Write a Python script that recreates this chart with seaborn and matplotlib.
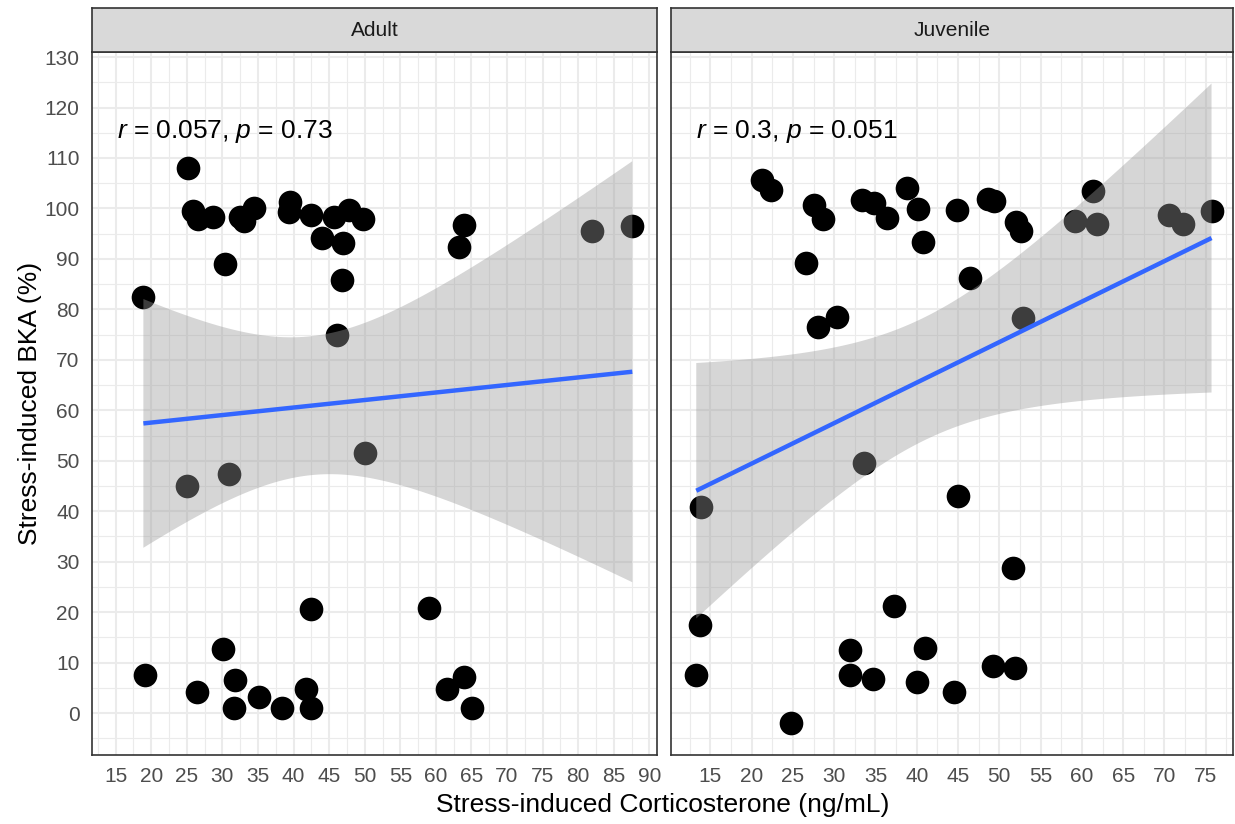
import matplotlib
matplotlib.use("Agg")
import matplotlib.pyplot as plt
import numpy as np
import seaborn as sns
from matplotlib.ticker import MultipleLocator

# Stress-induced corticosterone (ng/mL) and bacterial killing ability (%)
adult_cort = [25.1, 25.9, 26.6, 28.7, 32.5, 33.0, 34.4, 30.4, 18.9, 39.5,
              39.3, 42.5, 44.0, 45.7, 47.8, 49.8, 47.0, 46.8, 46.1, 63.9,
              63.3, 81.9, 87.6, 25.0, 30.9, 50.0, 19.1, 26.4, 30.1, 31.8,
              31.6, 35.1, 38.4, 42.4, 41.8, 42.4, 59.0, 63.9, 61.6, 65.1]
adult_bka = [108.1, 99.4, 98.0, 98.4, 98.3, 97.5, 100.0, 89.0, 82.5, 101.3,
             99.3, 98.7, 94.1, 98.4, 99.7, 98.0, 93.1, 85.8, 74.9, 96.7,
             92.4, 95.6, 96.5, 45.0, 47.3, 51.5, 7.5, 4.2, 12.7, 6.5,
             1.1, 3.2, 1.1, 20.7, 4.7, 1.1, 20.9, 7.2, 4.7, 1.1]

juv_cort = [21.3, 22.4, 27.6, 28.7, 26.6, 33.4, 34.8, 36.4, 38.8, 40.1,
            40.7, 44.9, 46.5, 28.0, 30.3, 48.6, 49.4, 52.0, 52.6, 52.9,
            61.4, 59.2, 61.8, 70.6, 72.2, 75.7, 13.9, 33.6, 45.0, 51.7,
            13.7, 13.3, 37.3, 31.9, 31.9, 34.7, 41.0, 40.0, 44.5, 49.2,
            51.9, 24.8]
juv_bka = [105.6, 103.6, 100.6, 98.0, 89.2, 101.7, 101.0, 98.2, 104.0, 99.9,
           93.4, 99.7, 86.3, 76.6, 78.5, 101.8, 101.5, 97.4, 95.6, 78.2,
           103.5, 97.6, 96.9, 98.7, 97.0, 99.5, 40.9, 49.5, 43.0, 28.7,
           17.4, 7.5, 21.3, 12.6, 7.5, 6.7, 13.0, 6.2, 4.2, 9.3,
           9.0, -1.9]

panel_names = ["Adult", "Juvenile"]
cor_r = ["0.057", "0.3"]
cor_p = ["0.73", "0.051"]
label_x = [15.2, 13.3]
x_limits = [(11.68, 91.07), (10.24, 78.3)]
x_ticks = [list(range(15, 91, 5)), list(range(15, 76, 5))]
y_ticks = list(range(0, 131, 10))
y_limits = (-8.3, 131.0)

sns.set_style("white")
plt.rcParams["font.family"] = ["Liberation Sans", "DejaVu Sans"]
plt.rcParams["mathtext.fontset"] = "custom"
plt.rcParams["mathtext.it"] = "Liberation Sans:italic"
plt.rcParams["mathtext.rm"] = "Liberation Sans"


def t_quantile_975(df):
    """Student t 97.5% quantile via Cornish-Fisher expansion."""
    z = 1.959963985
    return (z + (z**3 + z) / (4 * df)
            + (5 * z**5 + 16 * z**3 + 3 * z) / (96 * df**2)
            + (3 * z**7 + 19 * z**5 + 17 * z**3 - 15 * z) / (384 * df**3))


def linear_fit_band(xs, ys, n_grid=120):
    """Least-squares line with a 95% confidence band for the mean."""
    x = np.asarray(xs, float)
    y = np.asarray(ys, float)
    n = len(x)
    xbar = x.mean()
    sxx = ((x - xbar) ** 2).sum()
    b = ((x - xbar) * (y - y.mean())).sum() / sxx
    a = y.mean() - b * xbar
    resid = y - (a + b * x)
    s = np.sqrt((resid ** 2).sum() / (n - 2))
    grid = np.linspace(x.min(), x.max(), n_grid)
    fit = a + b * grid
    se = s * np.sqrt(1 / n + (grid - xbar) ** 2 / sxx)
    t = t_quantile_975(n - 2)
    return grid, fit - t * se, fit + t * se


W, H = 1235, 824
fig = plt.figure(figsize=(W / 100, H / 100), dpi=100)
fig.patch.set_facecolor("white")


def box(x0, y0, x1, y1):
    return [x0 / W, 1 - y1 / H, (x1 - x0) / W, (y1 - y0) / H]


panel_px = [(92, 657), (671, 1233)]
datasets = [(adult_cort, adult_bka), (juv_cort, juv_bka)]
for i, ((x0, x1), (xs, ys)) in enumerate(zip(panel_px, datasets)):
    ax = fig.add_axes(box(x0, 52, x1, 755))
    ax.set_facecolor("white")
    ax.set_axisbelow(True)

    sns.scatterplot(x=xs, y=ys, ax=ax, color="black", s=290,
                    linewidth=0, zorder=2, legend=False)
    grid, lo, hi = linear_fit_band(xs, ys)
    ax.fill_between(grid, lo, hi, facecolor="#999999", edgecolor="none",
                    alpha=0.4, zorder=3)
    sns.regplot(x=xs, y=ys, ax=ax, scatter=False, ci=None,
                color="#3366FF", truncate=True,
                line_kws=dict(lw=3.2, zorder=4, solid_capstyle="butt"))

    ax.set_xlim(*x_limits[i])
    ax.set_ylim(*y_limits)
    ax.set_xticks(x_ticks[i])
    ax.xaxis.set_minor_locator(MultipleLocator(2.5))
    ax.set_yticks(y_ticks)
    ax.yaxis.set_minor_locator(MultipleLocator(5))
    ax.grid(which="major", color="#EBEBEB", lw=1.5)
    ax.grid(which="minor", color="#EBEBEB", lw=0.8)
    ax.tick_params(which="minor", length=0)
    ax.tick_params(which="major", length=6, width=1.1, color="#333333",
                   labelcolor="#4D4D4D", labelsize=15, pad=3)
    if i == 1:
        ax.tick_params(axis="y", left=False, labelleft=False)
    for sp in ax.spines.values():
        sp.set_color("#333333")
        sp.set_linewidth(1.2)
        sp.set_visible(True)
    ax.set_xlabel("")
    ax.set_ylabel("")

    ax.text(label_x[i], 115.3,
            rf"$\it{{r}}$ = {cor_r[i]}, $\it{{p}}$ = {cor_p[i]}",
            ha="left", va="center", fontsize=19, color="black", zorder=5)

    strip = fig.add_axes(box(x0, 8, x1, 52))
    strip.set_facecolor("#D9D9D9")
    strip.set_xticks([])
    strip.set_yticks([])
    for sp in strip.spines.values():
        sp.set_color("#333333")
        sp.set_linewidth(1.2)
    strip.text(0.5, 0.5, panel_names[i], ha="center", va="center",
               fontsize=15, color="#1A1A1A", transform=strip.transAxes)

fig.text(662.5 / W, 1 - 805 / H, "Stress-induced Corticosterone (ng/mL)",
         ha="center", va="center", fontsize=19, color="black")
fig.text(30 / W, 1 - 403 / H, "Stress-induced BKA (%)", rotation=90,
         ha="center", va="center", fontsize=19, color="black")

fig.savefig("out.png", dpi=100)
